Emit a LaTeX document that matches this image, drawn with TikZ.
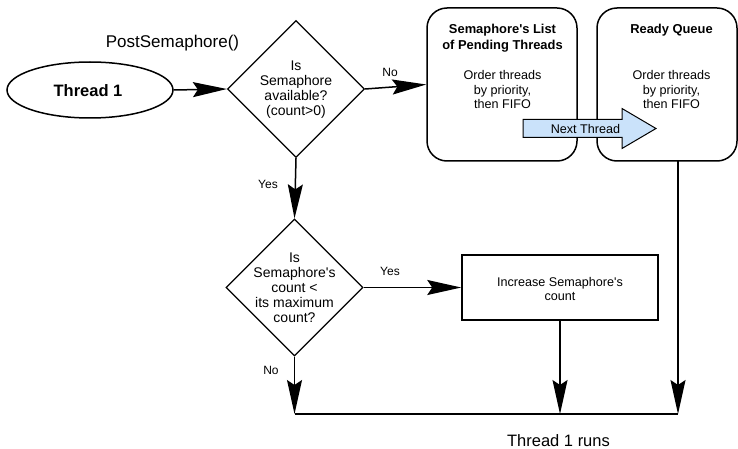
\documentclass[tikz,border=0pt]{standalone}
\usepackage{fontspec}
\setmainfont{Liberation Sans}
\usetikzlibrary{shapes.geometric,arrows.meta}

\definecolor{nextblue}{RGB}{202,226,250}
\newcommand{\apos}{\textquotesingle}

\tikzset{
  conn/.style={line width=1.5pt, -{Stealth[length=34pt,width=15pt,inset=5pt]}},
  plain/.style={line width=1.5pt},
  decision/.style={draw, diamond, line width=1.2pt, minimum width=137pt,
    minimum height=137pt, inner sep=0pt},
  queuebox/.style={draw, rectangle, rounded corners=20pt, line width=1.5pt,
    inner sep=0pt},
  txt/.style={inner sep=0pt, align=center},
  small/.style={font=\fontsize{12.6}{14.5}\selectfont},
  qtext/.style={font=\fontsize{14}{15}\selectfont},
  lbl/.style={inner sep=0pt, font=\fontsize{12}{14}\selectfont},
}

\begin{document}
\begin{tikzpicture}[x=1pt, y=-1pt]
\clip (0,0) rectangle (738,449);
\fill[white] (0,0) rectangle (738,449);

% start node and title
\node[draw, ellipse, line width=1.5pt, minimum width=166pt, minimum height=56pt,
      inner sep=0pt] (t1) at (90,90) {};
\node[txt, font=\fontsize{16.5}{18}\selectfont\bfseries] (t1txt) at (88,91) {Thread 1};
\node[txt, font=\fontsize{17}{19}\selectfont] (title) at (172.5,43) {PostSemaphore()};

% first decision
\node[decision] (d1) at (296,89) {};
\node[txt, qtext] (d1txt) at (296,90) {Is\\Semaphore\\available?\\(count>0)};

% queues
\node[queuebox, minimum width=150pt, minimum height=153pt] (pend) at (502,84.5) {};
\node[txt, font=\fontsize{12.9}{15.7}\selectfont\bfseries] (pendh) at (502.5,38)
  {Semaphore\apos s List\\of Pending Threads};
\node[txt, small] (pendt) at (502.5,89.5) {Order threads\\by priority,\\then FIFO};

\node[queuebox, minimum width=140pt, minimum height=153pt] (ready) at (667,84.5) {};
\node[txt, font=\fontsize{12.9}{15.7}\selectfont\bfseries] (readyh) at (671.5,30) {Ready Queue};
\node[txt, small] (readyt) at (671.5,89.5) {Order threads\\by priority,\\then FIFO};

% transfer arrow between the queues
\draw[fill=nextblue, line width=1pt, line join=miter]
  (523,119.5) -- (622,119.5) -- (622,108.5) -- (656,128.5) -- (622,148.5)
  -- (622,137.5) -- (523,137.5) -- cycle;
\node[txt, small] (next) at (585.5,128.5) {Next Thread};

% second decision
\node[decision] (d2) at (294.5,287.5) {};
\node[txt, qtext] (d2txt) at (294.5,288) {Is\\Semaphore\apos s\\count <\\its maximum\\count?};

% increment step
\node[draw, rectangle, line width=1.5pt, minimum width=196pt, minimum height=65pt,
      inner sep=0pt] (inc) at (560,287.5) {};
\node[txt, small] (inctxt) at (560,289) {Increase Semaphore\apos s\\count};

% join line
\coordinate (j1) at (294.5,414);
\coordinate (j2) at (560,414);
\coordinate (j3) at (678,414);
\coordinate (rq) at (678,161);

% connectors
\draw[conn] (t1.east) -- (d1.west);
\draw[conn] (d1.east) -- (pend.west);
\draw[conn] (d1.south) -- (d2.north);
\draw[conn] (d2.east) -- (inc.west);
\draw[conn] (d2.south) -- (j1);
\draw[conn] (inc.south) -- (j2);
\draw[conn] (rq) -- (j3);
\draw[plain] (j1) -- (j3);

% branch labels
\node[lbl] (no1) at (390,72) {No};
\node[lbl] (yes1) at (268,184) {Yes};
\node[lbl] (yes2) at (390,271) {Yes};
\node[lbl] (no2) at (271,370) {No};
\node[txt, font=\fontsize{16.5}{18}\selectfont] (runs) at (558.5,441) {Thread 1 runs};
\end{tikzpicture}
\end{document}
